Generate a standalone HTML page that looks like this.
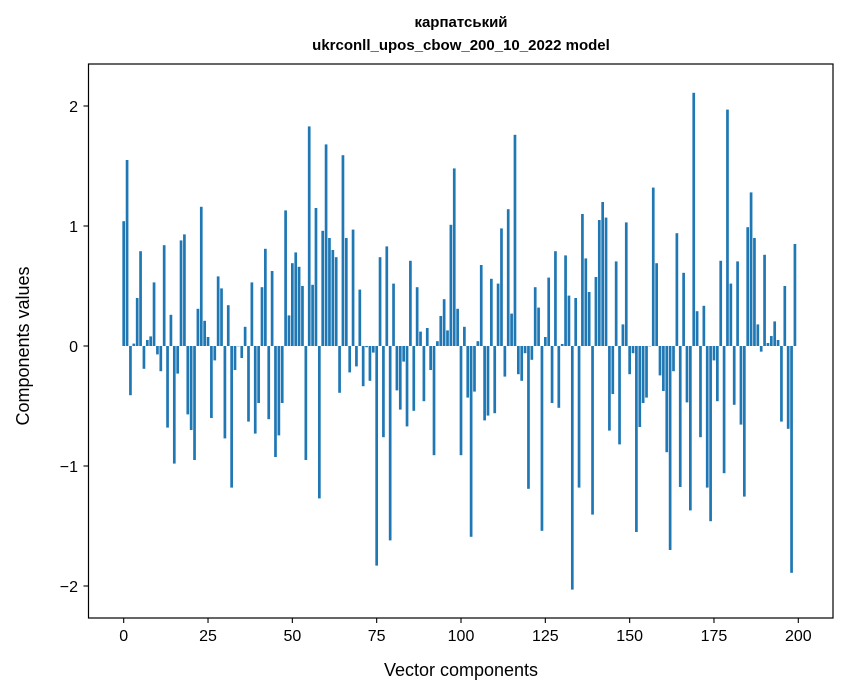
<!DOCTYPE html>
<html><head><meta charset="utf-8"><style>
body{margin:0;background:#fff;}
svg{display:block;font-family:"Liberation Sans","DejaVu Sans",sans-serif;}
</style></head><body>
<svg id="chart" width="847" height="696">
<text x="461" y="27" text-anchor="middle" font-size="15" font-weight="bold">карпатський</text>
<text x="461" y="50" text-anchor="middle" font-size="15" font-weight="bold">ukrconll_upos_cbow_200_10_2022 model</text>
<g id="bars"></g>
<rect x="88.5" y="64" width="744.5" height="554" fill="none" stroke="#000" stroke-width="1.2"/>
<g id="xticks"></g>
<g id="yticks"></g>
<text x="461" y="676" text-anchor="middle" font-size="18">Vector components</text>
<text transform="translate(29,346) rotate(-90)" text-anchor="middle" font-size="18">Components values</text>
</svg>
<script>
const values = [1.04,1.55,-0.41,0.02,0.40,0.79,-0.19,0.05,0.08,0.53,
-0.07,-0.21,0.84,-0.68,0.26,-0.98,-0.23,0.88,0.93,-0.57,
-0.70,-0.95,0.31,1.16,0.21,0.075,-0.60,-0.12,0.58,0.48,
-0.77,0.34,-1.18,-0.20,0.0,-0.10,0.16,-0.63,0.53,-0.73,
-0.475,0.49,0.81,-0.61,0.625,-0.925,-0.745,-0.475,1.13,0.255,
0.69,0.78,0.66,0.50,-0.95,1.83,0.51,1.15,-1.27,0.96,
1.68,0.90,0.80,0.74,-0.39,1.59,0.90,-0.22,0.97,-0.17,
0.47,-0.335,-0.01,-0.29,-0.055,-1.83,0.74,-0.76,0.83,-1.62,
0.52,-0.37,-0.53,-0.13,-0.67,0.71,-0.54,0.49,0.12,-0.46,
0.15,-0.20,-0.91,0.04,0.25,0.39,0.13,1.01,1.48,0.31,
-0.91,0.16,-0.43,-1.59,-0.38,0.04,0.675,-0.62,-0.58,0.56,
-0.56,0.52,0.98,-0.255,1.14,0.27,1.76,-0.235,-0.29,-0.06,
-1.19,-0.115,0.49,0.32,-1.54,0.075,0.57,-0.475,0.79,-0.515,
0.017,0.755,0.42,-2.03,0.40,-1.18,1.10,0.73,0.45,-1.405,
0.575,1.05,1.20,1.07,-0.705,-0.40,0.705,-0.82,0.18,1.03,
-0.235,-0.06,-1.55,-0.675,-0.475,-0.43,0.0,1.32,0.69,-0.245,
-0.375,-0.885,-1.70,-0.21,0.94,-1.175,0.61,-0.47,-1.37,2.11,
0.29,-0.76,0.335,-1.18,-1.46,-0.12,-0.46,0.71,-1.06,1.97,
0.52,-0.49,0.705,-0.655,-1.255,0.99,1.28,0.90,0.18,-0.047,
0.76,0.025,0.083,0.205,0.05,-0.63,0.50,-0.69,-1.89,0.85];
const xTickValues = [0,25,50,75,100,125,150,175,200];
const yTickValues = [-2,-1,0,1,2];
const yTickLabels = ["\u22122","\u22121","0","1","2"];

const NS="http://www.w3.org/2000/svg";
function xs(i){return 123.7+3.373*i;}
function ys(v){return 346-120*v;}
const bw=3.373*0.8;
const bars=document.getElementById('bars');
values.forEach((v,i)=>{
  const r=document.createElementNS(NS,'rect');
  
  
  const y0=ys(0),y1=ys(v);
  r.setAttribute('x',xs(i)-bw/2);
  r.setAttribute('y',Math.min(y0,y1));
  r.setAttribute('width',bw);
  r.setAttribute('height',Math.max(Math.abs(y1-y0),0.3));
  r.setAttribute('fill','#1f77b4');
  bars.appendChild(r);
});
const xt=document.getElementById('xticks');
xTickValues.forEach(t=>{
  const l=document.createElementNS(NS,'line');
  
  
  l.setAttribute('x1',xs(t));l.setAttribute('x2',xs(t));
  l.setAttribute('y1',618);l.setAttribute('y2',623);
  l.setAttribute('stroke','#000');l.setAttribute('stroke-width','1.1');
  xt.appendChild(l);
  const tx=document.createElementNS(NS,'text');
  
  
  tx.setAttribute('x',xs(t));tx.setAttribute('y',641);
  tx.setAttribute('text-anchor','middle');tx.setAttribute('font-size','16');
  tx.textContent=t;
  xt.appendChild(tx);
});
const yt=document.getElementById('yticks');
yTickValues.forEach((t,k)=>{
  const l=document.createElementNS(NS,'line');
  
  
  l.setAttribute('x1',83.5);l.setAttribute('x2',88.5);
  l.setAttribute('y1',ys(t));l.setAttribute('y2',ys(t));
  l.setAttribute('stroke','#000');l.setAttribute('stroke-width','1.1');
  yt.appendChild(l);
  const tx=document.createElementNS(NS,'text');
  
  
  tx.setAttribute('x',78);tx.setAttribute('y',ys(t)+6);
  tx.setAttribute('text-anchor','end');tx.setAttribute('font-size','16');
  tx.textContent=yTickLabels[k];
  yt.appendChild(tx);
});
</script>
</body></html>
